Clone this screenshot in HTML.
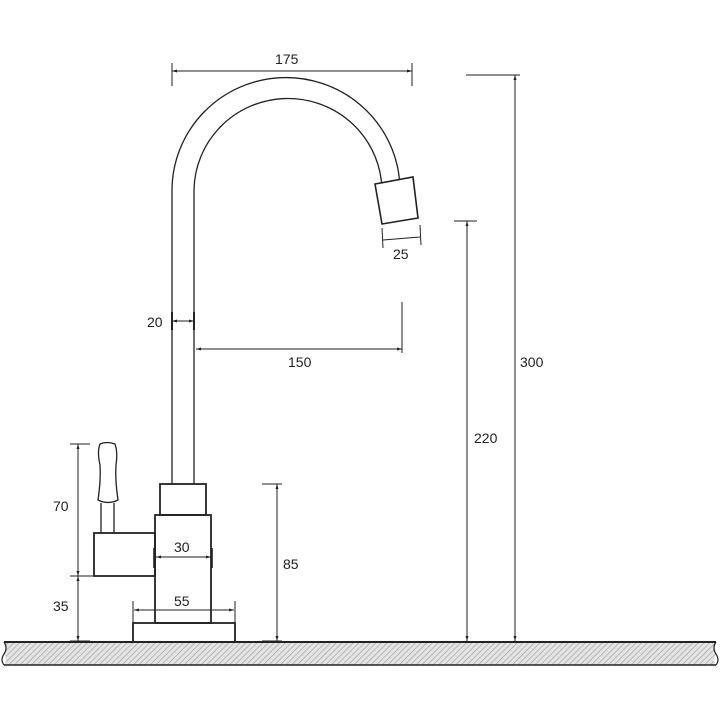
<!DOCTYPE html>
<html><head><meta charset="utf-8"><style>
html,body{margin:0;padding:0;background:#fff;}
svg{display:block;}
text{font-family:"Liberation Sans",sans-serif;font-size:14px;fill:#222;}
</style></head><body>
<svg width="720" height="720" viewBox="0 0 720 720" xmlns="http://www.w3.org/2000/svg">
<defs>
<pattern id="h" width="4" height="4" patternUnits="userSpaceOnUse" patternTransform="rotate(45)">
<rect width="4" height="4" fill="#e4e4e4"/>
<line x1="0" y1="0" x2="0" y2="4" stroke="#9a9a9a" stroke-width="1.2"/>
</pattern>
<marker id="a" viewBox="0 0 10 10" refX="10" refY="5" markerWidth="5" markerHeight="5" orient="auto-start-reverse"><path d="M0,2 L10,5 L0,8z" fill="#222"/></marker>
</defs>
<g fill="none" stroke="#222" stroke-width="1.3">
<path d="M4,642 L716,642 Q712,648 716,654 Q712,660 716,665 L4,665 Q8,660 4,654 Q8,648 4,642z" fill="url(#h)" stroke="none"/>
<line x1="4" y1="642" x2="716" y2="642" stroke-width="2"/>
<line x1="4" y1="665" x2="716" y2="665" stroke-width="1.6"/>
<path d="M4,642 Q8,648 4,654 Q0,660 4,665" stroke-width="1.2"/>
<path d="M716,642 Q712,648 716,654 Q720,660 716,665" stroke-width="1.2"/>
<path d="M172,484 L172,190 A114,113 0 0 1 399.5,180"/>
<path d="M194,484 L194,190 A94,93 0 0 1 381.5,182"/>
<path d="M375,184 L413,177 L418,218 L382,224z" stroke-width="1.6"/>
<rect x="160" y="484" width="46" height="31" stroke-width="1.8"/>
<rect x="155" y="515" width="56" height="108" stroke-width="1.8"/>
<rect x="133" y="623" width="102" height="19" stroke-width="1.8"/>
<rect x="94" y="533" width="61" height="43" stroke-width="1.8"/>
<line x1="101" y1="503" x2="101" y2="533"/>
<line x1="114" y1="503" x2="114" y2="533"/>
<path d="M100,444 Q107,441 115,444 Q118,452 116,465 Q115,480 118,500 Q108,505 98,500 Q101,480 100,465 Q97,452 100,444z"/>
</g>
<g fill="none" stroke="#222" stroke-width="1">
<line x1="172" y1="63" x2="172" y2="86"/><line x1="412" y1="63" x2="412" y2="86"/>
<line x1="172" y1="71" x2="412" y2="71" marker-start="url(#a)" marker-end="url(#a)"/>
<line x1="382" y1="228" x2="383" y2="248"/><line x1="420" y1="225" x2="421" y2="245"/>
<line x1="383" y1="240" x2="420" y2="237"/>
<line x1="172" y1="312" x2="172" y2="330" stroke-width="2"/><line x1="194" y1="312" x2="194" y2="330" stroke-width="2"/>
<line x1="172" y1="321" x2="194" y2="321" marker-start="url(#a)" marker-end="url(#a)"/>
<line x1="402" y1="302" x2="402" y2="353"/>
<line x1="196" y1="349" x2="402" y2="349" marker-start="url(#a)" marker-end="url(#a)"/>
<line x1="466" y1="75" x2="520" y2="75"/>
<line x1="515" y1="75" x2="515" y2="641" marker-start="url(#a)" marker-end="url(#a)"/>
<line x1="454" y1="221" x2="477" y2="221"/>
<line x1="467" y1="221" x2="467" y2="641" marker-start="url(#a)" marker-end="url(#a)"/>
<line x1="262" y1="484" x2="282" y2="484"/>
<line x1="277" y1="484" x2="277" y2="641" marker-start="url(#a)" marker-end="url(#a)"/>
<line x1="262" y1="641" x2="282" y2="641"/>
<line x1="70" y1="444" x2="90" y2="444"/>
<line x1="70" y1="576" x2="94" y2="576"/>
<line x1="70" y1="641" x2="90" y2="641"/>
<line x1="78" y1="444" x2="78" y2="576" marker-start="url(#a)" marker-end="url(#a)"/>
<line x1="78" y1="576" x2="78" y2="641" marker-start="url(#a)" marker-end="url(#a)"/>
<line x1="154" y1="548" x2="154" y2="568" stroke-width="1.6"/><line x1="212" y1="548" x2="212" y2="568" stroke-width="1.6"/>
<line x1="156" y1="557" x2="211" y2="557" marker-start="url(#a)" marker-end="url(#a)"/>
<line x1="133" y1="601" x2="133" y2="623"/><line x1="235" y1="601" x2="235" y2="623"/>
<line x1="134" y1="610" x2="234" y2="610" marker-start="url(#a)" marker-end="url(#a)"/>
</g>
<text x="275" y="64">175</text>
<text x="393" y="259">25</text>
<text x="147" y="327">20</text>
<text x="288" y="367">150</text>
<text x="520" y="367">300</text>
<text x="474" y="443">220</text>
<text x="283" y="569">85</text>
<text x="53" y="511">70</text>
<text x="53" y="611">35</text>
<text x="174" y="552">30</text>
<text x="174" y="606">55</text>
</svg>
</body></html>
